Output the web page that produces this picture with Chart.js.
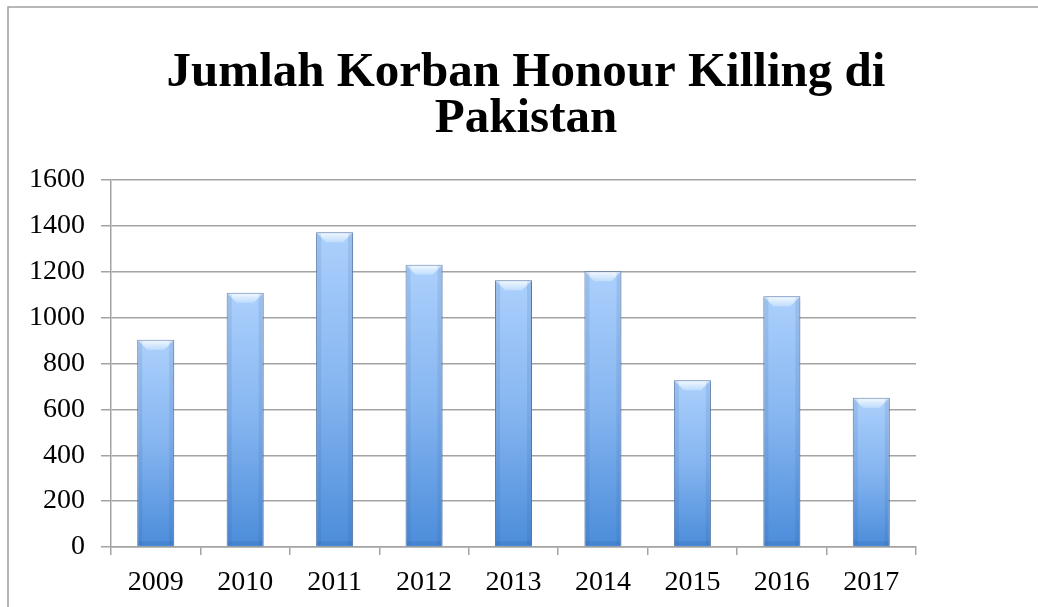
<!DOCTYPE html>
<html lang="id">
<head>
    <meta charset="UTF-8">
    <title>Jumlah Korban Honour Killing di Pakistan</title>
    <script src="https://cdn.jsdelivr.net/npm/chart.js"></script>
    <style>
        body { margin: 0; background: #fff; }
        #wrap { width: 1038px; height: 607px; }
    </style>
</head>
<body>
    <div id="wrap"><canvas id="grafik" width="1038" height="607"></canvas></div>

    <script>
        // data
        const tahun = ['2009', '2010', '2011', '2012', '2013', '2014', '2015', '2016', '2017'];
        const korban = [904, 1109, 1373, 1231, 1163, 1203, 727, 1093, 651];
        const judul = ['Jumlah Korban Honour Killing di', 'Pakistan'];
        const yMax = 1600;
        const yStep = 200;

        const abu = '#a3a3a3';
        const hurufSerif = '"Liberation Serif", "DejaVu Serif", serif';

        // gradien per batang: terang di atas, gelap di bawah
        function warnaBatang(ctx) {
            const chart = ctx.chart;
            const sy = chart.scales.y;
            if (!sy || ctx.raw == null) return '#7fb0ea';
            const top = sy.getPixelForValue(ctx.raw);
            const bot = sy.getPixelForValue(0);
            if (!isFinite(top) || !isFinite(bot) || top === bot) return '#7fb0ea';
            const g = chart.ctx.createLinearGradient(0, top, 0, bot);
            g.addColorStop(0, '#acd0fc');
            g.addColorStop(0.5, '#85b5f0');
            g.addColorStop(1, '#4b8cda');
            return g;
        }

        // bingkai abu-abu di kiri dan atas
        const bingkai = {
            id: 'bingkai',
            beforeDraw(chart) {
                const c = chart.ctx;
                c.save();
                c.strokeStyle = '#a0a0a0';
                c.lineWidth = 1.5;
                c.beginPath();
                c.moveTo(8, chart.height);
                c.lineTo(8, 7);
                c.lineTo(chart.width, 7);
                c.stroke();
                c.restore();
            }
        };

        // bayangan tipis di bawah batang
        const bayangan = {
            id: 'bayangan',
            beforeDatasetsDraw(chart) {
                const c = chart.ctx;
                c.save();
                c.shadowColor = 'rgba(0,0,0,0.25)';
                c.shadowBlur = 5;
                c.shadowOffsetX = 1;
                c.shadowOffsetY = 1;
            },
            afterDatasetsDraw(chart) {
                chart.ctx.restore();
            }
        };

        // efek bevel di atas batang
        const bevel = {
            id: 'bevel',
            afterDatasetsDraw(chart) {
                const c = chart.ctx;
                const meta = chart.getDatasetMeta(0);
                c.save();
                meta.data.forEach(bar => {
                    const w = bar.width;
                    const x0 = bar.x - w / 2, x1 = bar.x + w / 2;
                    const top = bar.y, base = bar.base;
                    const b = 10;
                    const g = c.createLinearGradient(0, top, 0, top + b);
                    g.addColorStop(0, 'rgba(255,255,255,0.9)');
                    g.addColorStop(1, 'rgba(235,248,255,0.35)');
                    c.fillStyle = g;
                    c.beginPath();
                    c.moveTo(x0 + 1, top + 1);
                    c.lineTo(x1 - 1, top + 1);
                    c.lineTo(x1 - b, top + b);
                    c.lineTo(x0 + b, top + b);
                    c.closePath();
                    c.fill();
                    // sisi kiri dan kanan sedikit lebih gelap
                    c.fillStyle = 'rgba(40,80,140,0.12)';
                    c.fillRect(x0 + 1, top + 1, 4, base - top - 2);
                    c.fillRect(x1 - 5, top + 1, 4, base - top - 2);
                    // dasar sedikit gelap
                    c.fillStyle = 'rgba(30,70,130,0.12)';
                    c.fillRect(x0 + 1, base - 5, w - 2, 4);
                });
                c.restore();
            }
        };

        new Chart(document.getElementById('grafik'), {
            type: 'bar',
            data: {
                labels: tahun,
                datasets: [{
                    data: korban,
                    backgroundColor: warnaBatang,
                    borderColor: '#5f87bb',
                    borderWidth: 1,
                    categoryPercentage: 1,
                    barPercentage: 0.414
                }]
            },
            options: {
                responsive: false,
                animation: false,
                layout: { padding: { left: 29, right: 15, top: 0, bottom: 0 } },
                plugins: {
                    legend: { display: false },
                    tooltip: { enabled: false },
                    title: {
                        display: true,
                        text: judul,
                        color: '#000',
                        font: { family: hurufSerif, size: 49, weight: 'bold', lineHeight: 0.95 },
                        padding: { top: 50, bottom: 37 }
                    }
                },
                scales: {
                    x: {
                        grid: { drawOnChartArea: false, color: abu, lineWidth: 1.5, tickLength: 8 },
                        border: { color: abu, width: 1.5 },
                        ticks: { color: '#000', font: { family: hurufSerif, size: 28 }, padding: 11 },
                        afterFit(scale) { scale.height = 60; }
                    },
                    y: {
                        min: 0,
                        max: yMax,
                        grid: { color: abu, lineWidth: 1.5, tickLength: 10 },
                        border: { color: abu, width: 1.5 },
                        ticks: {
                            stepSize: yStep,
                            color: '#000',
                            font: { family: hurufSerif, size: 28 },
                            padding: 16,
                            callback: v => String(v)
                        },
                        afterFit(scale) { scale.width = 82; }
                    },
                    // sumbu kosong untuk ruang di kanan
                    kanan: {
                        type: 'linear',
                        position: 'right',
                        display: true,
                        grid: { display: false },
                        border: { display: false },
                        ticks: { display: false },
                        afterFit(scale) { scale.width = 107; }
                    }
                }
            },
            plugins: [bingkai, bayangan, bevel]
        });
    </script>
</body>
</html>
